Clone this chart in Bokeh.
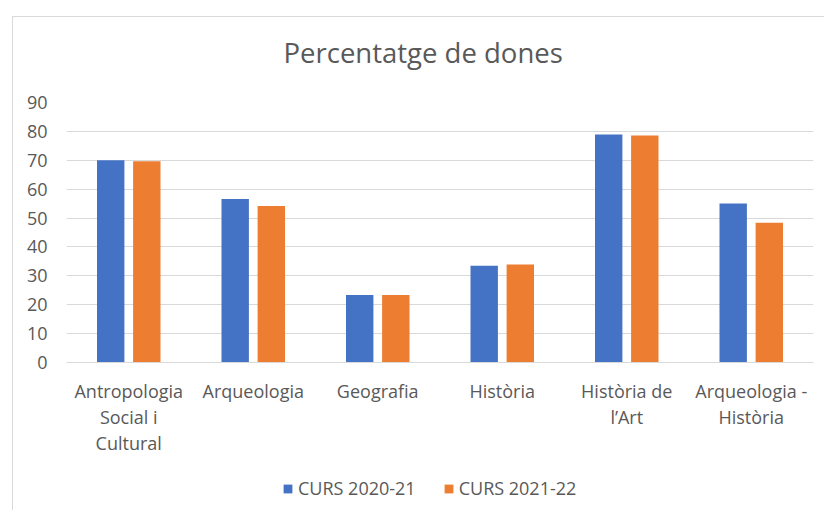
from bokeh.plotting import figure
from bokeh.layouts import column
from bokeh.models import ColumnDataSource, FactorRange, Range1d, Legend, LegendItem, FixedTicker, Label
from bokeh.transform import dodge
from bokeh.embed import file_html
from bokeh.resources import INLINE

title_text = "Percentatge de dones"
categories = ["Antropologia\nSocial i\nCultural", "Arqueologia", "Geografia", "Història",
              "Història de\nl’Art", "Arqueologia -\nHistòria"]
curs_2020_21 = [70.0, 56.6, 23.4, 33.5, 78.9, 55.0]
curs_2021_22 = [69.7, 54.2, 23.4, 33.9, 78.6, 48.4]
series_names = ["CURS 2020-21", "CURS 2021-22"]
series_colors = ["#4472C4", "#ED7D31"]
y_ticks = [0, 10, 20, 30, 40, 50, 60, 70, 80, 90]

FONT = "Open Sans"
TXT = "#595959"
GRID = "#d9d9d9"
BORDER = "1px solid #d9d9d9"

src = ColumnDataSource(dict(cat=categories, a=curs_2020_21, b=curs_2021_22))
xr = FactorRange(*categories)


def strip(height):
    f = figure(x_range=xr, y_range=Range1d(-2, -1), width=812, height=height,
               output_backend="svg", toolbar_location=None,
               x_axis_location=None, y_axis_location=None,
               min_border_left=53, min_border_right=12, min_border_top=0, min_border_bottom=0)
    f.outline_line_color = None
    f.xgrid.grid_line_color = None
    f.ygrid.grid_line_color = None
    return f


# title strip
t = strip(72)
t.margin = (16, 0, 0, 12)
t.styles = {"border-left": BORDER, "border-top": BORDER}
t.add_layout(Label(x=217, y=37, x_units="screen", y_units="screen", text=title_text,
                   text_font=FONT, text_font_size="27.5px", text_color=TXT,
                   text_baseline="alphabetic", text_align="left"))

# main chart
p = figure(x_range=xr, y_range=(0, 90),
           width=812, height=386, output_backend="svg", toolbar_location=None,
           min_border_left=53, min_border_right=12, min_border_top=14, min_border_bottom=112)
p.margin = (0, 0, 0, 12)
p.styles = {"border-left": BORDER}

p.vbar(x=dodge("cat", -0.145, range=xr), top="a", width=0.22, source=src,
       fill_color=series_colors[0], line_color=None)
p.vbar(x=dodge("cat", 0.145, range=xr), top="b", width=0.22, source=src,
       fill_color=series_colors[1], line_color=None)

p.outline_line_color = None
p.xgrid.grid_line_color = None
p.ygrid.grid_line_color = GRID
p.ygrid.grid_line_width = 1

p.yaxis.ticker = FixedTicker(ticks=y_ticks)
p.yaxis.axis_line_color = None
p.yaxis.major_tick_line_color = None
p.yaxis.minor_tick_line_color = None
p.yaxis.major_label_standoff = 13
p.yaxis.major_label_text_font = FONT
p.yaxis.major_label_text_font_size = "18px"
p.yaxis.major_label_text_color = TXT

p.xaxis.axis_line_color = GRID
p.xaxis.axis_line_width = 1
p.xaxis.major_tick_line_color = None
p.xaxis.major_label_standoff = 10
p.xaxis.major_label_text_font = FONT
p.xaxis.major_label_text_font_size = "18px"
p.xaxis.major_label_text_color = TXT
p.xaxis.major_label_text_line_height = 1.1

# legend strip: zero-width series glyphs (nothing drawn), only the legend shows
q = strip(36)
q.margin = (0, 0, 0, 12)
q.styles = {"border-left": BORDER}
l1 = q.vbar(x="cat", top="a", width=0, source=src,
            fill_color=series_colors[0], line_color=None)
l2 = q.vbar(x="cat", top="b", width=0, source=src,
            fill_color=series_colors[1], line_color=None)
legend = Legend(items=[LegendItem(label=series_names[0], renderers=[l1]),
                       LegendItem(label=series_names[1], renderers=[l2])],
                orientation="horizontal", location=(216, 10),
                glyph_width=11, glyph_height=11, label_standoff=5, spacing=27,
                padding=0, margin=0, border_line_color=None, background_fill_alpha=0,
                label_text_font=FONT, label_text_font_size="18px", label_text_color=TXT)
q.add_layout(legend, "center")

layout = column(t, p, q, spacing=0)
open("out.html", "w").write(file_html(layout, INLINE))
